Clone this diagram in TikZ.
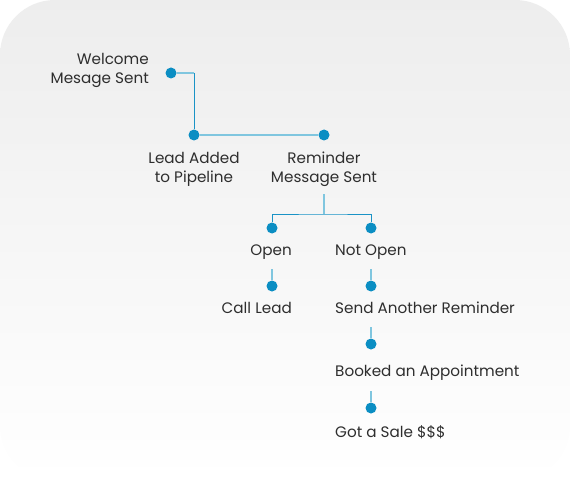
\documentclass[tikz,border=0pt]{standalone}
\usepackage{fontspec}
\setmainfont{Poppins}
\definecolor{dotblue}{HTML}{0B8EC3}
\definecolor{linedark}{HTML}{1A93C6}
\definecolor{linelight}{HTML}{80C6DF}
\definecolor{txtgray}{HTML}{2E2E2E}
\begin{document}
\begin{tikzpicture}[x=1pt,y=-1pt,
    dot/.style={circle,fill=dotblue,inner sep=0pt,minimum size=11pt},
    lbl/.style={text=txtgray,font=\fontsize{15.2}{19}\selectfont,inner sep=0pt},
    thinlink/.style={linedark,line width=1pt},
    thicklink/.style={linelight,line width=1.8pt}]
    % card
    \useasboundingbox (0,0) rectangle (570,500);
    \fill[white] (0,0) rectangle (570,500);
    \shade[top color=black!7,bottom color=white,rounded corners=55pt] (0,0) rectangle (570,480);

    % Welcome -> Lead -> Reminder
    \node[lbl,align=right,anchor=east] (welcometxt) at (149,70.5) {Welcome\\Mesage Sent};
    \coordinate (bend) at (194,73);
    \node[dot] (welcome) at (171,73) {};
    \node[dot] (lead) at (194,135) {};
    \node[dot] (remind) at (324,135) {};
    \draw[thicklink] (welcome) -- (bend);
    \draw[thinlink] (bend) -- (lead);
    \draw[thicklink] (lead) -- (remind);
    \node[lbl,align=center] (leadtxt) at (194,169) {Lead Added\\to Pipeline};
    \node[lbl,align=center] (remindtxt) at (324,169) {Reminder\\Message Sent};

    % Open / Not Open
    \coordinate (remindstub) at (324,194);
    \coordinate (branch) at (324,214);
    \node[dot] (open) at (272,228) {};
    \node[dot] (notopen) at (371,228) {};
    \draw[thicklink] (remindstub) -- (branch);
    \draw[thinlink] (open) |- (branch) -| (notopen);
    \node[lbl,anchor=base east] (opentxt) at (292,255) {Open};
    \node[lbl,anchor=base west] (notopentxt) at (335,255) {Not Open};

    % Open branch
    \coordinate (openstub) at (272,269);
    \node[dot] (call) at (272,286) {};
    \draw[thicklink] (openstub) -- (call);
    \node[lbl,anchor=base east] (calltxt) at (292,313) {Call Lead};

    % Not Open branch
    \coordinate (notopenstub) at (371,269);
    \node[dot] (another) at (371,286) {};
    \draw[thicklink] (notopenstub) -- (another);
    \node[lbl,anchor=base west] (anothertxt) at (335,313) {Send Another Reminder};

    \coordinate (anotherstub) at (371,327);
    \node[dot] (booked) at (371,344) {};
    \draw[thicklink] (anotherstub) -- (booked);
    \node[lbl,anchor=base west] (bookedtxt) at (335,376.5) {Booked an Appointment};

    \coordinate (bookedstub) at (371,391);
    \node[dot] (sale) at (371,408) {};
    \draw[thicklink] (bookedstub) -- (sale);
    \node[lbl,anchor=base west] (saletxt) at (335,437) {Got a Sale \$\$\$};
\end{tikzpicture}
\end{document}
